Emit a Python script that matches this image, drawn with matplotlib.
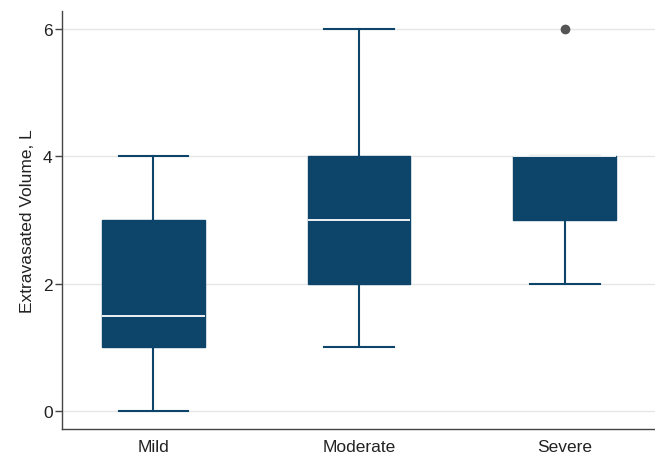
import matplotlib.pyplot as plt

plt.rcParams['font.family'] = ['Liberation Sans', 'DejaVu Sans']

groups = ['Mild', 'Moderate', 'Severe']
whis_lo = [0, 1, 2]
q1 = [1, 2, 3]
medians = [1.5, 3, 4]
q3 = [3, 4, 4]
whis_hi = [4, 6, 4]
outliers = [[], [], [6]]

navy = '#0d4469'
txt = '#222222'

stats = []
for i, g in enumerate(groups):
    stats.append({'label': g, 'whislo': whis_lo[i], 'q1': q1[i], 'med': medians[i],
                  'q3': q3[i], 'whishi': whis_hi[i], 'fliers': outliers[i]})

fig = plt.figure(figsize=(6.55, 4.56), dpi=100)
ax = fig.add_axes([0.095, 0.057, 0.905, 0.917])

ax.bxp(stats, positions=[1, 2, 3], widths=0.5, patch_artist=True,
       boxprops=dict(facecolor=navy, edgecolor=navy, linewidth=1),
       medianprops=dict(color='white', linewidth=1.3),
       whiskerprops=dict(color=navy, linewidth=1.5),
       capprops=dict(color=navy, linewidth=1.5),
       capwidths=0.34,
       flierprops=dict(marker='o', markerfacecolor='#555555', markeredgecolor='#555555',
                       markersize=6))

ax.set_xlim(0.556, 3.44)
ax.set_ylim(-0.28, 6.28)
ax.set_yticks([0, 2, 4, 6])
ax.yaxis.grid(True, color='#e6e6e6', linewidth=1)
ax.set_axisbelow(True)
ax.set_ylabel('Extravasated Volume, L', fontsize=12.5, labelpad=6, color=txt)
ax.tick_params(axis='y', length=5, width=1, color='#444444', labelsize=12.5, pad=2,
               labelcolor=txt)
ax.tick_params(axis='x', length=0, labelsize=12.5, pad=7, labelcolor=txt)

for s in ['top', 'right']:
    ax.spines[s].set_visible(False)
for s in ['left', 'bottom']:
    ax.spines[s].set_color('#444444')
    ax.spines[s].set_linewidth(1)

fig.savefig('out.png', dpi=100)
